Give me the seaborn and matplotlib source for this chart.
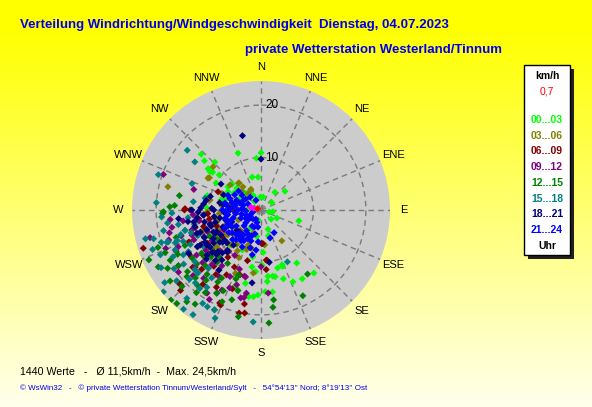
import numpy as np
import pandas as pd
import matplotlib
matplotlib.use('Agg')
import matplotlib.pyplot as plt
import seaborn as sns
from matplotlib.patches import Rectangle
from matplotlib import transforms

# Windrichtung (Grad) und Geschwindigkeit (km/h), je 3-Stunden-Block, aus dem Bild geschaetzt
wind_00_03 = [(313, 15.6), (311, 14.3), (316, 12.7), (308, 12.8), (307, 12.2), (308, 11.7), (310, 10.4),
              (301, 10.0), (338, 11.7), (0, 10.9), (355, 9.9), (345, 6.5), (355, 6.3), (312, 7.4),
              (305, 7.7), (312, 6.2), (317, 4.4), (316, 3.5), (284, 7.9), (324, 2.0), (9, 2.5),
              (285, 10.6), (302, 6.1), (38, 4.3), (52, 5.8), (56, 2.5), (104, 1.6), (98, 2.3),
              (132, 2.6), (117, 3.4), (106, 7.5), (160, 3.9), (164, 5.1), (177, 8.1), (146, 12.2),
              (159, 11.5), (164, 11.5), (179, 10.5), (189, 11.0), (185, 11.8), (140, 15.7), (149, 15.3),
              (156, 15.0), (162, 13.8), (170, 12.8), (174, 12.7), (175, 13.7), (172, 15.8), (177, 15.6),
              (182, 16.2), (185, 16.6), (190, 9.1), (299, 7.2), (315, 4.9), (300, 4.6), (313, 3.4),
              (286, 7.1), (332, 3.2), (286, 1.2), (238, 2.9), (357, 2.5), (280, 1.8), (270, 2.7),
              (195, 2.0), (211, 4.1), (189, 5.1), (205, 8.4), (222, 8.9), (272, 10.3), (159, 11.2),
              (168, 13.0), (188, 16.7), (196, 15.9), (199, 15.4), (192, 14.3)]
wind_03_06 = [(312, 12.3), (302, 11.6), (284, 18.3), (321, 6.6), (334, 4.4), (323, 4.0), (314, 5.1),
              (276, 7.5), (275, 6.2), (268, 10.3), (309, 7.6), (301, 11.8), (293, 8.1), (273, 5.9),
              (246, 4.7), (198, 4.7), (200, 7.1), (233, 7.9), (255, 8.7), (281, 9.9), (146, 7.1),
              (174, 6.7), (322, 5.6), (333, 4.3), (194, 7.5), (187, 12.1), (202, 13.0), (320, 6.7),
              (247, 7.4), (226, 5.5), (220, 8.7), (241, 10.0), (235, 8.0), (245, 9.0), (225, 9.0),
              (215, 8.0), (205, 10.0), (255, 7.0), (265, 8.0), (230, 11.0), (200, 8.0), (250, 12.0),
              (238, 6.0), (244, 7.0), (252, 9.0), (228, 7.0), (218, 10.0), (210, 9.0), (222, 12.0),
              (260, 9.0), (270, 6.0), (280, 6.0)]
wind_06_09 = [(252, 23.6), (225, 21.7), (229, 21.0), (203, 19.7), (190, 18.2), (192, 20.1), (175, 11.4),
              (204, 19.4), (174, 9.6), (293, 8.9), (270, 13.5), (270, 14.6), (266, 10.2), (266, 5.0),
              (224, 5.8), (179, 6.4), (254, 11.4), (173, 9.7), (177, 6.4), (189, 19.9), (227, 20.9),
              (271, 14.5), (228, 12.0), (235, 9.0), (242, 8.0), (215, 11.0), (205, 12.0), (250, 11.0),
              (220, 14.0), (195, 10.0), (225, 16.0), (260, 10.0), (240, 13.0), (210, 17.0),
              (222, 13.0), (232, 14.0), (238, 12.0), (246, 15.0), (255, 13.0), (215, 15.0), (208, 14.0),
              (200, 16.0), (198, 13.0), (230, 17.0), (236, 16.0), (250, 9.0), (262, 12.0), (245, 18.0),
              (218, 18.0)]
wind_09_12 = [(290, 19.8), (287, 13.4), (259, 17.3), (248, 19.6), (213, 18.9), (208, 17.9), (246, 17.3),
              (254, 13.7), (252, 18.5), (256, 21.8), (233, 19.7), (193, 17.2), (229, 16.6), (191, 17.0),
              (175, 15.9), (210, 19.7), (193, 13.1), (180, 10.8), (190, 16.1), (264, 17.4), (230, 13.0),
              (238, 11.0), (245, 12.0), (250, 14.0), (225, 11.0), (215, 13.0), (205, 14.0), (255, 10.0),
              (260, 12.0), (220, 17.0), (235, 15.0), (200, 12.0), (210, 10.0), (228, 15.0), (234, 13.0),
              (240, 16.0), (246, 14.0), (252, 16.0), (222, 14.0), (212, 15.0), (206, 17.0), (198, 15.0),
              (262, 15.0), (266, 13.0), (240, 9.0), (248, 11.0), (218, 10.0), (226, 18.0), (236, 19.0),
              (256, 18.0), (202, 16.0), (194, 13.0), (244, 18.0)]
wind_12_15 = [(280, 15.8), (272, 17.4), (273, 16.5), (268, 18.8), (241, 22.4), (241, 19.8), (222, 24.0),
              (219, 22.5), (230, 18.3), (220, 18.8), (172, 17.3), (173, 18.7), (176, 21.6), (192, 20.8),
              (205, 21.0), (199, 13.1), (144, 15.1), (154, 18.2), (246, 23.4), (250, 20.9), (225, 24.3),
              (215, 21.9), (269, 18.6), (215, 14.0), (220, 16.0), (225, 15.0), (230, 14.0), (210, 15.0),
              (205, 17.0), (235, 16.0), (228, 19.0), (218, 20.0), (240, 14.0), (212, 12.0), (222, 12.0),
              (232, 12.0), (245, 16.0), (200, 14.0), (196, 16.0), (218, 17.0), (224, 18.0), (230, 16.0),
              (236, 19.0), (242, 18.0), (214, 19.0), (208, 18.0), (226, 21.0), (232, 22.0), (238, 21.0),
              (220, 13.0), (227, 13.0), (234, 14.0), (246, 20.0), (252, 17.0), (211, 16.0), (203, 19.0),
              (198, 18.0), (243, 11.0), (236, 10.0)]
wind_15_18 = [(309, 18.1), (306, 15.6), (289, 20.7), (291, 14.1), (274, 20.0), (277, 13.0), (282, 10.9),
              (255, 21.2), (251, 19.0), (230, 24.3), (213, 23.8), (209, 21.1), (205, 21.0), (253, 16.0),
              (256, 22.7), (249, 17.5), (240, 17.1), (222, 18.7), (251, 18.7), (255, 15.0), (203, 22.4),
              (184, 21.4), (153, 11.1), (218, 24.0), (266, 19.0), (240, 16.0), (245, 18.0), (250, 17.0),
              (235, 18.0), (228, 17.0), (222, 15.0), (215, 18.0), (255, 15.0), (260, 16.0), (248, 13.0),
              (238, 13.0), (252, 20.0), (258, 19.0), (230, 21.0), (220, 22.0), (244, 15.0), (248, 16.0),
              (242, 19.0), (236, 20.0), (232, 16.0), (226, 19.0), (218, 19.0), (212, 21.0), (246, 21.0),
              (262, 18.0), (264, 14.0), (258, 13.0), (252, 14.0), (244, 12.0), (268, 17.0), (233, 23.0),
              (240, 22.0), (225, 17.0), (216, 16.0), (250, 22.0)]
wind_18_21 = [(346, 14.6), (0, 9.7), (171, 10.1), (187, 14.0), (303, 9.1), (290, 4.9), (280, 10.6),
              (272, 11.5), (270, 13.2), (263, 12.3), (265, 11.0), (254, 10.1), (244, 9.4), (230, 9.5),
              (239, 10.6), (240, 12.3), (226, 11.4), (219, 10.3), (218, 8.5), (216, 6.7), (245, 6.9),
              (259, 8.0), (272, 9.4), (278, 7.3), (248, 6.0), (230, 6.0), (230, 13.4), (240, 13.4),
              (273, 5.9), (292, 7.7), (261, 14.1), (243, 9.8), (250, 12.3), (229, 12.3), (237, 12.3),
              (218, 12.1), (239, 16.1), (264, 15.8), (245, 10.0), (235, 11.0), (255, 9.0), (225, 12.0),
              (265, 11.0), (250, 13.0), (240, 14.0), (230, 9.0), (260, 13.0), (215, 14.0), (220, 10.0),
              (270, 9.0), (232, 10.0), (238, 9.0), (246, 8.0), (252, 10.0), (258, 11.0), (262, 9.0),
              (268, 12.0), (226, 9.0), (222, 11.0), (234, 12.0), (244, 12.0), (250, 11.0), (256, 13.0),
              (228, 14.0), (222, 13.0), (276, 11.0), (285, 10.0), (280, 8.0), (266, 7.0), (254, 7.0)]
wind_21_24 = [(294, 6.9), (300, 5.8), (308, 4.6), (320, 3.2), (333, 2.1), (281, 7.0), (284, 5.7),
              (288, 4.2), (295, 2.7), (270, 7.4), (270, 5.9), (270, 4.4), (266, 2.9), (256, 1.6),
              (257, 7.0), (254, 5.5), (248, 4.1), (233, 2.9), (209, 2.0), (246, 7.0), (237, 5.6),
              (227, 4.4), (209, 3.5), (190, 3.3), (232, 7.0), (222, 5.9), (208, 5.2), (194, 4.7),
              (220, 7.4), (209, 6.7), (198, 6.2), (185, 6.1), (207, 7.9), (196, 7.5), (187, 7.7),
              (191, 8.7), (162, 5.6), (150, 5.0), (300, 3.8), (290, 6.3), (278, 6.6), (275, 3.6),
              (262, 6.4), (262, 4.9), (250, 6.3), (240, 6.4), (240, 3.3), (230, 3.8), (215, 4.8),
              (218, 6.4), (200, 5.3), (202, 3.5), (310, 5.6), (285, 3.5), (277, 5.2), (250, 3.0),
              (225, 6.6), (213, 7.0), (235, 7.5), (243, 7.8), (253, 6.8), (205, 6.0), (215, 5.8),
              (224, 7.8), (268, 6.8), (280, 5.0), (292, 5.0), (305, 3.6), (258, 3.8), (245, 2.3),
              (222, 2.3), (198, 2.5)]
# letzte Werte (magenta) und aktueller Wert 0,7 km/h (rot)
wind_letzte = [(285, 2.0), (283, 1.4)]
wind_aktuell = [(290, 0.7)]

zeitbloecke = ['00...03', '03...06', '06...09', '09...12', '12...15', '15...18', '18...21', '21...24']
farben = ['#00ff00', '#808000', '#800000', '#800080', '#008000', '#008080', '#000080', '#0000ff']
himmelsrichtungen = ['N', 'NNE', 'NE', 'ENE', 'E', 'ESE', 'SE', 'SSE',
                     'S', 'SSW', 'SW', 'WSW', 'W', 'WNW', 'NW', 'NNW']
ringe = [10, 20]

bloecke = [wind_00_03, wind_03_06, wind_06_09, wind_09_12,
           wind_12_15, wind_15_18, wind_18_21, wind_21_24, wind_letzte, wind_aktuell]
namen = zeitbloecke + ['letzte', 'aktuell']
palette = dict(zip(namen, farben + ['#ff00ff', '#ff0000']))

teile = []
for name, werte in zip(namen, bloecke):
    t = pd.DataFrame(werte, columns=['richtung', 'kmh'])
    t['zeit'] = name
    teile.append(t)
daten = pd.concat(teile, ignore_index=True)
daten['theta'] = np.deg2rad(daten['richtung'])

plt.rcParams['font.family'] = ['Liberation Sans', 'DejaVu Sans']

W, H = 592, 407
fig = plt.figure(figsize=(W / 100, H / 100), dpi=100)

# Hintergrund: Verlauf gelb -> hellgelb
bg = fig.add_axes([0, 0, 1, 1])
y = np.linspace(0, 1, 200)
blau = np.clip((y - 0.07) / 0.93, 0, 1) * 0.93
grad = np.stack([np.ones_like(y), np.ones_like(y), blau], axis=1)[:, None, :]
bg.imshow(grad, aspect='auto', extent=[0, 1, 0, 1], origin='upper')
bg.set_xlim(0, 1)
bg.set_ylim(0, 1)
bg.axis('off')


def px(x, yy):
    return x / W, 1 - yy / H


# Polardiagramm
cx, cy, rad = 261, 210, 129
ax = fig.add_axes([(cx - rad) / W, (H - cy - rad) / H, 2 * rad / W, 2 * rad / H], projection='polar')
ax.set_theta_zero_location('N')
ax.set_theta_direction(-1)
ax.set_facecolor('#cccccc')
ax.spines['polar'].set_visible(False)
ax.set_axisbelow(True)

sns.scatterplot(data=daten, x='theta', y='kmh', hue='zeit', palette=palette, marker='D',
                s=13, linewidth=0, legend=False, ax=ax, zorder=3)
ax.set_xlabel('')
ax.set_ylabel('')
ax.set_ylim(0, 24.6)
ax.set_xticks(np.deg2rad(np.arange(0, 360, 22.5)))
ax.set_xticklabels([])
ax.set_yticks(ringe)
ax.set_yticklabels([])
ax.grid(True, color='#7a7a7a', linestyle=(0, (4, 3)), linewidth=1)

for i, name in enumerate(himmelsrichtungen):
    ax.text(np.deg2rad(i * 22.5), 27.3, name, ha='center', va='center', fontsize=8,
            color='black', clip_on=False)
verschoben = transforms.offset_copy(ax.transData, fig=fig, x=4, y=0, units='dots')
for r in ringe:
    ax.text(0, r, str(r), ha='left', va='center', fontsize=8.5, transform=verschoben, zorder=4)

# Titel
fig.text(*px(20, 25), 'Verteilung Windrichtung/Windgeschwindigkeit  Dienstag, 04.07.2023',
         color='#0000ee', fontsize=9.5, fontweight='bold', va='center', ha='left')
fig.text(*px(502, 50), 'private Wetterstation Westerland/Tinnum',
         color='#0000ee', fontsize=9.5, fontweight='bold', va='center', ha='right')

# Legende mit Schatten
fig.patches.append(Rectangle(px(528, 259), 46 / W, 190 / H, transform=fig.transFigure,
                             facecolor='#202020', edgecolor='none', zorder=1))
fig.patches.append(Rectangle(px(524, 255), 46 / W, 190 / H, transform=fig.transFigure,
                             facecolor='white', edgecolor='black', linewidth=1, zorder=2))
fig.text(*px(547, 76), 'km/h', fontsize=7.5, fontweight='bold', ha='center', va='center', zorder=3)
fig.text(*px(547, 92), '0,7', fontsize=7.5, color='#ff0000', ha='center', va='center', zorder=3)
for k, (name, farbe) in enumerate(zip(zeitbloecke, farben)):
    fig.text(*px(547, 120 + k * 15.7), name, fontsize=7.5, fontweight='bold', color=farbe,
             ha='center', va='center', zorder=3)
fig.text(*px(547, 246), 'Uhr', fontsize=7.5, fontweight='bold', ha='center', va='center', zorder=3)

# Fusszeilen
fig.text(*px(20, 371), '1440 Werte   -   Ø 11,5km/h  -  Max. 24,5km/h', fontsize=7.7,
         color='black', va='center', ha='left')
fig.text(*px(20, 388), "© WsWin32   -   © private Wetterstation Tinnum/Westerland/Sylt   -   "
         "54°54'13'' Nord; 8°19'13'' Ost", fontsize=5.8, color='#0000ee', va='center', ha='left')

fig.savefig('out.png', dpi=100)
